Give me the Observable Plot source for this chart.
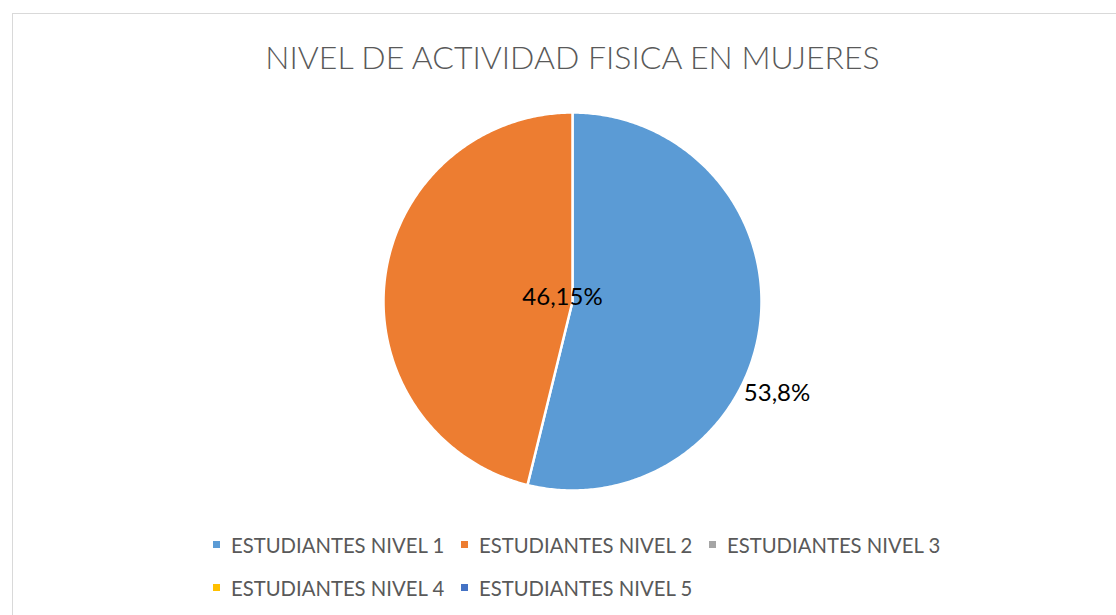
<!DOCTYPE html>
<html><head><meta charset="utf-8">
<script src="https://cdn.jsdelivr.net/npm/d3@7"></script>
<script src="https://cdn.jsdelivr.net/npm/@observablehq/plot@0.6"></script>
<style>
body{margin:0;background:#fff;font-family:Lato,"Open Sans",sans-serif;}
#wrap{position:relative;width:1116px;height:615px;overflow:hidden;background:#fff;}
#frame{position:absolute;left:12px;top:13px;width:1200px;height:700px;border:1px solid #d9d9d9;box-sizing:border-box;}
#title{position:absolute;left:0;width:1145px;text-align:center;top:37px;font-size:32px;font-weight:300;color:#595959;white-space:nowrap;}
#chart{position:absolute;left:0;top:0;}
#legend{position:absolute;left:213px;top:531px;width:760px;display:flex;flex-wrap:wrap;row-gap:16px;}
.item{display:flex;align-items:center;width:248px;font-size:20.3px;color:#595959;white-space:nowrap;height:27px;}
.sw{width:7px;height:7px;margin-right:11px;flex:none;}
</style></head>
<body>
<div id="wrap">
  <div id="frame"></div>
  <div id="chart"></div>
  <div id="title"></div>
  <div id="legend"></div>
</div>
<script>
const chartTitle = "NIVEL DE ACTIVIDAD FISICA EN MUJERES";
const categories = ["ESTUDIANTES NIVEL 1","ESTUDIANTES NIVEL 2","ESTUDIANTES NIVEL 3","ESTUDIANTES NIVEL 4","ESTUDIANTES NIVEL 5"];
const values = [53.8, 46.15, 0, 0, 0];
const valueLabels = ["53,8%", "46,15%", "", "", ""];
const colors = ["#5B9BD5","#ED7D31","#A5A5A5","#FFC000","#4472C4"];

const W = 1116, H = 615, R = 189, CX = 572, CY = 301;

const rows = categories.map((c, i) => ({cat: c, value: values[i], label: valueLabels[i]}));
const arcs = d3.pie().sort(null).value(d => d.value)(rows);

// polygon outline points per slice (unit circle, angle clockwise from top)
const pts = [];
arcs.forEach(a => {
  if (a.endAngle - a.startAngle <= 0) return;
  pts.push({cat: a.data.cat, x: 0, y: 0});
  const n = Math.max(2, Math.ceil((a.endAngle - a.startAngle) / 0.01));
  for (let k = 0; k <= n; k++) {
    const t = a.startAngle + (a.endAngle - a.startAngle) * k / n;
    pts.push({cat: a.data.cat, x: Math.sin(t), y: Math.cos(t)});
  }
});

const labelData = arcs.filter(a => a.data.label).map(a => {
  const m = (a.startAngle + a.endAngle) / 2;
  return {cat: a.data.cat, label: a.data.label, x: Math.sin(m), y: Math.cos(m)};
});

const plot = Plot.plot({
  width: W, height: H, margin: 0,
  x: {domain: [(0 - CX) / R, (W - CX) / R], axis: null},
  y: {domain: [(CY - H) / R, CY / R], axis: null},
  color: {domain: categories, range: colors},
  style: {background: "transparent", fontFamily: "Lato, 'Open Sans', sans-serif"},
  marks: [
    Plot.line(pts, {x: "x", y: "y", z: "cat", fill: "cat", stroke: "white", strokeWidth: 2.5, curve: "linear-closed"}),
    Plot.text(labelData.filter(d => d.cat === categories[0]), {
      x: d => d.x * 1.09, y: d => d.y * 1.09, text: "label", fill: "black", fontSize: 24, dy: 67, textAnchor: "middle"
    }),
    Plot.text(labelData.filter(d => d.cat === categories[1]), {
      x: d => d.x * 0.0, y: d => d.y * 0.0, text: "label", fill: "black", fontSize: 24, dx: -10, dy: -4, textAnchor: "middle"
    })
  ]
});
document.getElementById("chart").appendChild(plot);
document.getElementById("title").textContent = chartTitle;

const leg = document.getElementById("legend");
categories.forEach((c, i) => {
  const it = document.createElement("div"); it.className = "item";
  const sw = document.createElement("span"); sw.className = "sw"; sw.style.background = colors[i];
  const tx = document.createElement("span"); tx.textContent = c;
  it.appendChild(sw); it.appendChild(tx); leg.appendChild(it);
});
</script>
</body></html>
